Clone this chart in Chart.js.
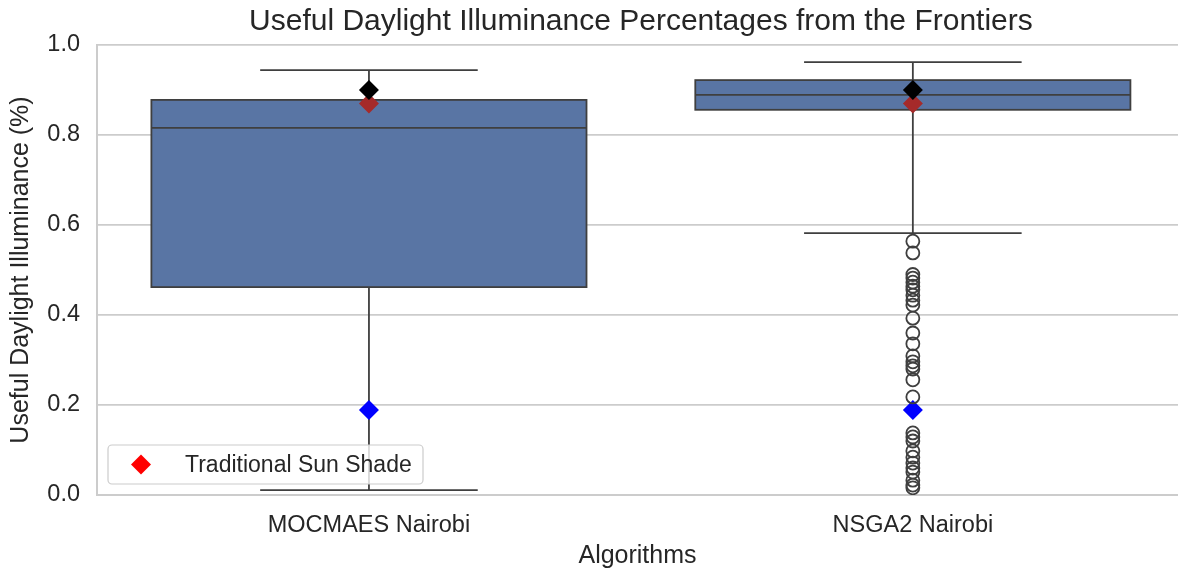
<!DOCTYPE html>
<html>
<head>
<meta charset="utf-8">
<script src="https://cdn.jsdelivr.net/npm/chart.js@4"></script>
<style>
  html, body { margin: 0; padding: 0; background: #fff; }
  #wrap { width: 1178px; height: 572px; }
</style>
</head>
<body>
<div id="wrap"><canvas id="chart"></canvas></div>
<script>
const categories = ['MOCMAES Nairobi', 'NSGA2 Nairobi'];
const q1 = [0.462, 0.856];
const median = [0.816, 0.889];
const q3 = [0.878, 0.922];
const whiskerLow = [0.011, 0.582];
const whiskerHigh = [0.944, 0.962];
const outliersMOCMAES = [];
const outliersNSGA2 = [0.564, 0.538, 0.490, 0.482, 0.473, 0.464, 0.456, 0.444, 0.433, 0.422,
  0.393, 0.360, 0.336, 0.309, 0.296, 0.287, 0.280, 0.256, 0.218,
  0.138, 0.129, 0.120, 0.098, 0.084, 0.071, 0.060, 0.051, 0.033, 0.022, 0.016];
const blackPoint = [0.90, 0.90];
const traditionalSunShade = [0.870, 0.870];
const bluePoint = [0.189, 0.189];
const yTicks = [0, 0.2, 0.4, 0.6, 0.8, 1.0];
const chartTitle = 'Useful Daylight Illuminance Percentages from the Frontiers';
const traditionalLabel = 'Traditional Sun Shade';

const font = '"Liberation Sans", Arial, sans-serif';
const boxFill = '#5975a4';
const edge = '#3f3f3f';

function pts(arr, i) { return arr.map(v => ({x: i, y: v})); }

// box bodies, whiskers, caps and medians drawn through the chart's scales
const boxPlugin = {
    id: 'boxes',
    beforeDatasetsDraw(chart) {
        const {ctx, scales: {x, y}} = chart;
        const unit = x.getPixelForValue(1) - x.getPixelForValue(0);
        ctx.save();
        ctx.strokeStyle = edge;
        ctx.lineWidth = 1.8;
        categories.forEach((c, i) => {
            const cx = x.getPixelForValue(i);
            const half = unit * 0.4;
            const cap = unit * 0.2;
            // whiskers
            ctx.beginPath();
            ctx.moveTo(cx, y.getPixelForValue(q3[i]));
            ctx.lineTo(cx, y.getPixelForValue(whiskerHigh[i]));
            ctx.moveTo(cx, y.getPixelForValue(q1[i]));
            ctx.lineTo(cx, y.getPixelForValue(whiskerLow[i]));
            ctx.moveTo(cx - cap, y.getPixelForValue(whiskerHigh[i]));
            ctx.lineTo(cx + cap, y.getPixelForValue(whiskerHigh[i]));
            ctx.moveTo(cx - cap, y.getPixelForValue(whiskerLow[i]));
            ctx.lineTo(cx + cap, y.getPixelForValue(whiskerLow[i]));
            ctx.stroke();
            // box
            const top = y.getPixelForValue(q3[i]);
            const bot = y.getPixelForValue(q1[i]);
            ctx.fillStyle = boxFill;
            ctx.fillRect(cx - half, top, half * 2, bot - top);
            ctx.strokeRect(cx - half, top, half * 2, bot - top);
            // median
            ctx.beginPath();
            ctx.moveTo(cx - half, y.getPixelForValue(median[i]));
            ctx.lineTo(cx + half, y.getPixelForValue(median[i]));
            ctx.stroke();
        });
        ctx.restore();
    },
    afterDraw(chart) {
        const {ctx, chartArea, scales: {x}} = chart;
        ctx.save();
        // title centred over the full axis range (-0.5 .. 1.5)
        ctx.fillStyle = '#262626';
        ctx.font = '30px ' + font;
        ctx.textAlign = 'center';
        ctx.textBaseline = 'middle';
        ctx.fillText(chartTitle, x.getPixelForValue(0.5), 22);

        // legend box in the lower left of the plot
        const lx = chartArea.left + 11, ly = chartArea.bottom - 50, lw = 315, lh = 39;
        ctx.fillStyle = 'rgba(255,255,255,0.8)';
        ctx.strokeStyle = '#cccccc';
        ctx.lineWidth = 1.2;
        ctx.beginPath();
        ctx.roundRect(lx, ly, lw, lh, 4);
        ctx.fill();
        ctx.stroke();
        const mx = lx + 33, my = ly + lh / 2;
        ctx.fillStyle = '#ff0000';
        ctx.beginPath();
        ctx.moveTo(mx, my - 10); ctx.lineTo(mx + 10, my); ctx.lineTo(mx, my + 10); ctx.lineTo(mx - 10, my);
        ctx.closePath();
        ctx.fill();
        ctx.fillStyle = '#262626';
        ctx.font = '23px ' + font;
        ctx.textAlign = 'left';
        ctx.fillText(traditionalLabel, lx + 77, my + 1);
        ctx.restore();
    }
};

const outlierData = pts(outliersMOCMAES, 0).concat(pts(outliersNSGA2, 1));
const diamond = (data, color, label) => ({
    label: label,
    data: data.map((v, i) => ({x: i, y: v})),
    pointStyle: 'rectRot',
    pointRadius: 10,
    backgroundColor: color,
    borderColor: color,
    borderWidth: 0
});

const ctx = document.getElementById('chart').getContext('2d');
const myChart = new Chart(ctx, {
    type: 'scatter',
    data: {
        datasets: [
            {
                label: 'outliers',
                data: outlierData,
                pointStyle: 'circle',
                pointRadius: 6.5,
                backgroundColor: 'rgba(0,0,0,0)',
                borderColor: edge,
                borderWidth: 1.8
            },
            diamond(blackPoint, '#000000', 'best'),
            diamond(bluePoint, '#0000ff', 'worst'),
            diamond(traditionalSunShade, '#a52a2a', traditionalLabel)
        ]
    },
    options: {
        responsive: true,
        maintainAspectRatio: false,
        animation: false,
        layout: { autoPadding: false, padding: { top: 45, right: 0, left: 0, bottom: 0 } },
        plugins: {
            legend: { display: false },
            tooltip: { enabled: false },
            title: { display: false }
        },
        scales: {
            x: {
                type: 'linear',
                min: -0.5,
                max: 1.4875,
                afterBuildTicks: (s) => { s.ticks = categories.map((c, i) => ({value: i})); },
                afterFit: (s) => { s.height = 77; s.paddingLeft = 0; s.paddingRight = 0; },
                ticks: {
                    callback: (v) => categories[v],
                    color: '#262626',
                    font: { family: font, size: 23.5 },
                    padding: 8,
                    maxRotation: 0
                },
                grid: { display: false },
                border: { color: '#cccccc', width: 2 },
                title: {
                    display: true,
                    text: 'Algorithms',
                    color: '#262626',
                    font: { family: font, size: 25 },
                    padding: { top: 0, bottom: 1 }
                }
            },
            y: {
                min: 0,
                max: 1,
                afterBuildTicks: (s) => { s.ticks = yTicks.map(v => ({value: v})); },
                afterFit: (s) => { s.width = 97; },
                ticks: {
                    callback: (v) => v.toFixed(1),
                    color: '#262626',
                    font: { family: font, size: 23.5 },
                    padding: 17
                },
                grid: { color: '#cccccc', lineWidth: 1.8, drawTicks: false },
                border: { color: '#cccccc', width: 2 },
                title: {
                    display: true,
                    text: 'Useful Daylight Illuminance (%)',
                    color: '#262626',
                    font: { family: font, size: 25 },
                    padding: { top: 6, bottom: 0 }
                }
            }
        }
    },
    plugins: [boxPlugin]
});
</script>
</body>
</html>
